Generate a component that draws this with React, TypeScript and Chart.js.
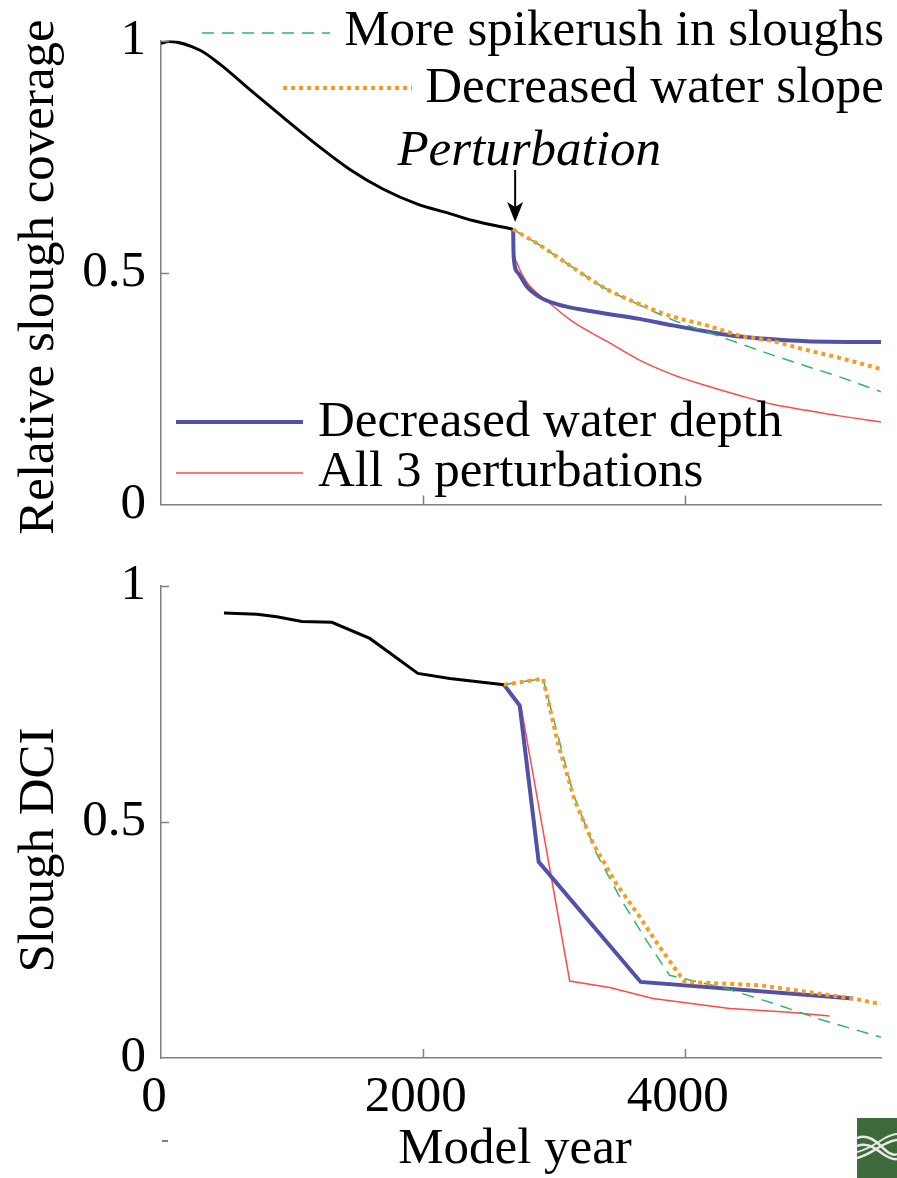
import React, { useEffect, useRef } from "react";
import { Chart, registerables } from "chart.js";

Chart.register(...registerables);

const FONT = "'Liberation Serif', 'Times New Roman', serif";
const FS = 51;
const AXIS = "#7f7f7f";

// ---- shared tick definitions ----
const yearTicks = [0, 2000, 4000];
const yearTickLabels = ["0", "2000", "4000"];
const valueTicks = [0, 0.5, 1];
const valueTickLabels = ["0", "0.5", "1"];

const seriesNames = [
  "More spikerush in sloughs",
  "Decreased water slope",
  "Decreased water depth",
  "All 3 perturbations",
];
const perturbationLabel = "Perturbation";
const perturbationYear = 2690;
const topTitle = "Relative slough coverage";
const bottomTitle = "Slough DCI";
const xTitle = "Model year";

// ---- top panel: relative slough coverage ----
const covBaseYears = [0, 60, 298, 450, 679, 931, 1191, 1443, 1695, 1954, 2206, 2382, 2690];
const covBase = [0.994, 0.998, 0.979, 0.949, 0.894, 0.835, 0.775, 0.722, 0.68, 0.648, 0.627, 0.612, 0.593];

const covSpikeYears = [2690, 2893, 3145, 3405, 3656, 3908, 4168, 4420, 4672, 4931, 5183, 5500];
const covSpike = [0.593, 0.559, 0.511, 0.464, 0.43, 0.398, 0.372, 0.347, 0.322, 0.298, 0.275, 0.243];

const covSlopeYears = [2690, 2893, 3145, 3405, 3656, 3908, 4168, 4420, 4672, 4931, 5183, 5500];
const covSlope = [0.593, 0.559, 0.511, 0.464, 0.432, 0.405, 0.386, 0.364, 0.352, 0.333, 0.316, 0.292];

const covDepthYears = [2690, 2694, 2725, 2794, 2893, 3023, 3275, 3656, 3908, 4168, 4420, 4672, 4931, 5500];
const covDepth = [0.593, 0.534, 0.5, 0.47, 0.447, 0.432, 0.417, 0.4, 0.386, 0.373, 0.362, 0.356, 0.352, 0.35];

const covAllYears = [2690, 2694, 2718, 2794, 2947, 3145, 3405, 3656, 3908, 4168, 4420, 4672, 4931, 5183, 5500];
const covAll = [0.593, 0.555, 0.521, 0.479, 0.439, 0.394, 0.352, 0.311, 0.28, 0.256, 0.235, 0.216, 0.203, 0.191, 0.178];

// ---- bottom panel: slough DCI ----
const dciBaseYears = [481, 733, 885, 1076, 1305, 1595, 1962, 2206, 2620];
const dciBase = [0.942, 0.939, 0.934, 0.924, 0.922, 0.888, 0.814, 0.803, 0.79];

const dciSpikeYears = [2620, 2918, 3148, 3326, 3517, 3708, 3885, 4318, 4674, 5056, 5500];
const dciSpike = [0.79, 0.803, 0.56, 0.433, 0.334, 0.249, 0.175, 0.147, 0.116, 0.08, 0.044];

const dciSlopeYears = [2620, 2918, 3033, 3160, 3300, 3478, 3656, 3809, 4000, 4573, 5285, 5500];
const dciSlope = [0.79, 0.803, 0.665, 0.545, 0.454, 0.369, 0.299, 0.235, 0.161, 0.154, 0.126, 0.114];

const dciDepthYears = [2620, 2740, 2885, 3664, 5285];
const dciDepth = [0.79, 0.746, 0.415, 0.161, 0.126];

const dciAllYears = [2620, 2750, 3122, 3427, 3758, 4344, 4802, 5107];
const dciAll = [0.79, 0.744, 0.163, 0.149, 0.126, 0.105, 0.097, 0.089];

// ---- styles ----
const STY = {
  slope: { borderColor: "#fb9a1e", borderWidth: 4, borderDash: [4, 4] },
  spike: { borderColor: "#2fb56c", borderWidth: 1.5, borderDash: [12, 8] },
  depth: { borderColor: "#5151a8", borderWidth: 4, borderDash: [] as number[] },
  all3: { borderColor: "#ff4a4a", borderWidth: 1.5, borderDash: [] as number[] },
  base: { borderColor: "#000000", borderWidth: 3, borderDash: [] as number[] },
};

function pts(xs: number[], ys: number[]) {
  return xs.map((x, i) => ({ x, y: ys[i] }));
}

function makeDatasets(
  base: [number[], number[]],
  spike: [number[], number[]],
  slope: [number[], number[]],
  depth: [number[], number[]],
  all3: [number[], number[]],
  smooth: boolean
) {
  const common = smooth
    ? { cubicInterpolationMode: "monotone" as const, tension: 0.4 }
    : { tension: 0 };
  return [
    { label: seriesNames[1], data: pts(...slope), ...STY.slope, ...common, borderCapStyle: "butt" },
    { label: seriesNames[0], data: pts(...spike), ...STY.spike, ...common },
    { label: seriesNames[2], data: pts(...depth), ...STY.depth, ...common },
    { label: seriesNames[3], data: pts(...all3), ...STY.all3, ...common },
    { label: "Baseline", data: pts(...base), ...STY.base, ...common },
  ];
}

type LegendEntry = { style: any; x1: number; x2: number; ly: number; tx: number; ty: number; align: CanvasTextAlign; text: string };

function makeDecor(kind: "top" | "bottom", offsetY: number) {
  return {
    id: "decor-" + kind,
    afterDraw(chart: any) {
      const { ctx, chartArea } = chart;
      const x = chart.scales.x;
      const y = chart.scales.y;
      ctx.save();
      // inward tick marks
      ctx.strokeStyle = AXIS;
      ctx.lineWidth = 1.5;
      yearTicks.forEach((v) => {
        if (v === 0) return;
        const px = Math.round(x.getPixelForValue(v)) + 0.5;
        ctx.beginPath();
        ctx.moveTo(px, chartArea.bottom);
        ctx.lineTo(px, chartArea.bottom - 9);
        ctx.stroke();
      });
      valueTicks.forEach((v) => {
        if (v === 0) return;
        const py = Math.round(y.getPixelForValue(v)) + 0.5;
        ctx.beginPath();
        ctx.moveTo(chartArea.left, py);
        ctx.lineTo(chartArea.left + 8, py);
        ctx.stroke();
      });

      ctx.fillStyle = "#000";
      ctx.font = `${FS}px ${FONT}`;
      // y title
      ctx.save();
      ctx.translate(40, (kind === "top" ? 277 : 850) - offsetY);
      ctx.rotate(-Math.PI / 2);
      ctx.textAlign = "center";
      ctx.textBaseline = "middle";
      ctx.fillText(kind === "top" ? topTitle : bottomTitle, 0, 0);
      ctx.restore();

      let entries: LegendEntry[] = [];
      if (kind === "top") {
        entries = [
          { style: STY.spike, x1: 202, x2: 330, ly: 33, tx: 884, ty: 32, align: "right", text: seriesNames[0] },
          { style: STY.slope, x1: 283, x2: 412, ly: 88, tx: 884, ty: 89, align: "right", text: seriesNames[1] },
          { style: STY.depth, x1: 176, x2: 303, ly: 422, tx: 318, ty: 423, align: "left", text: seriesNames[2] },
          { style: STY.all3, x1: 176, x2: 303, ly: 473, tx: 318, ty: 473, align: "left", text: seriesNames[3] },
        ];
        // perturbation annotation
        const ax = x.getPixelForValue(perturbationYear) + 2;
        ctx.save();
        ctx.font = `italic ${FS}px ${FONT}`;
        ctx.textAlign = "center";
        ctx.textBaseline = "middle";
        ctx.fillText(perturbationLabel, ax + 14, 152);
        ctx.restore();
        ctx.strokeStyle = "#000";
        ctx.lineWidth = 2;
        ctx.beginPath();
        ctx.moveTo(ax, 170);
        ctx.lineTo(ax, 210);
        ctx.stroke();
        ctx.beginPath();
        ctx.moveTo(ax - 8, 202);
        ctx.lineTo(ax, 222);
        ctx.lineTo(ax + 8, 202);
        ctx.lineTo(ax, 207);
        ctx.closePath();
        ctx.fill();
      } else {
        ctx.textAlign = "center";
        ctx.textBaseline = "middle";
        ctx.fillText(xTitle, 515, 1150 - offsetY);
        ctx.strokeStyle = AXIS;
        ctx.lineWidth = 2;
        ctx.beginPath();
        ctx.moveTo(162, 1141 - offsetY);
        ctx.lineTo(168, 1141 - offsetY);
        ctx.stroke();
      }
      entries.forEach((e) => {
        ctx.save();
        ctx.strokeStyle = e.style.borderColor;
        ctx.lineWidth = e.style.borderWidth;
        ctx.setLineDash(e.style.borderDash || []);
        ctx.lineCap = "butt";
        ctx.beginPath();
        ctx.moveTo(e.x1, e.ly);
        ctx.lineTo(e.x2, e.ly);
        ctx.stroke();
        ctx.restore();
        ctx.fillStyle = "#000";
        ctx.font = `${FS}px ${FONT}`;
        ctx.textAlign = e.align;
        ctx.textBaseline = "middle";
        ctx.fillText(e.text, e.tx, e.ty);
      });
      ctx.restore();
    },
  };
}

function makeConfig(datasets: any[], padTop: number, xScaleHeight: number, showX: boolean, plugin: any) {
  return {
    type: "line" as const,
    data: { datasets },
    options: {
      responsive: false,
      animation: false as const,
      events: [],
      layout: { padding: { left: 0, right: 16, top: padTop, bottom: 0 } },
      plugins: { legend: { display: false }, tooltip: { enabled: false } },
      elements: { point: { radius: 0 } },
      scales: {
        x: {
          type: "linear" as const,
          min: 0,
          max: 5500,
          afterBuildTicks: (s: any) => {
            s.ticks = yearTicks.map((v) => ({ value: v }));
          },
          afterFit: (s: any) => {
            s.height = xScaleHeight;
          },
          grid: { display: false, drawTicks: false },
          border: { display: true, color: AXIS, width: 1.5 },
          ticks: {
            display: showX,
            autoSkip: false,
            maxRotation: 0,
            padding: 14,
            labelOffset: -7,
            color: "#000",
            font: { family: FONT, size: FS, lineHeight: 1 },
            callback: (_v: any, i: number) => yearTickLabels[i],
          },
        },
        y: {
          type: "linear" as const,
          min: 0,
          max: 1,
          afterBuildTicks: (s: any) => {
            s.ticks = valueTicks.map((v) => ({ value: v }));
          },
          afterFit: (s: any) => {
            s.width = 161;
          },
          grid: { display: false, drawTicks: false },
          border: { display: true, color: AXIS, width: 1.5 },
          ticks: {
            autoSkip: false,
            padding: 15,
            color: "#000",
            font: { family: FONT, size: FS, lineHeight: 1 },
            callback: (_v: any, i: number) => valueTickLabels[i],
          },
        },
      },
    },
    plugins: [plugin],
  };
}

const TOP_H = 545;
const BOTTOM_H = 1178 - TOP_H;

export default function App() {
  const topRef = useRef<HTMLCanvasElement | null>(null);
  const botRef = useRef<HTMLCanvasElement | null>(null);

  useEffect(() => {
    const topSets = makeDatasets(
      [covBaseYears, covBase],
      [covSpikeYears, covSpike],
      [covSlopeYears, covSlope],
      [covDepthYears, covDepth],
      [covAllYears, covAll],
      true
    );
    const botSets = makeDatasets(
      [dciBaseYears, dciBase],
      [dciSpikeYears, dciSpike],
      [dciSlopeYears, dciSlope],
      [dciDepthYears, dciDepth],
      [dciAllYears, dciAll],
      false
    );
    const c1 = new Chart(topRef.current as HTMLCanvasElement, makeConfig(topSets, 37, TOP_H - 509, false, makeDecor("top", 0)) as any);
    const c2 = new Chart(botRef.current as HTMLCanvasElement, makeConfig(botSets, 585 - TOP_H, 1178 - 1058, true, makeDecor("bottom", TOP_H)) as any);
    return () => {
      c1.destroy();
      c2.destroy();
    };
  }, []);

  return (
    <div style={{ position: "absolute", left: 0, top: 0, width: 897, height: 1178, background: "#fff", overflow: "hidden" }}>
      <canvas ref={topRef} width={897} height={TOP_H} style={{ position: "absolute", left: 0, top: 0 }} />
      <canvas ref={botRef} width={897} height={BOTTOM_H} style={{ position: "absolute", left: 0, top: TOP_H }} />
      <div style={{ position: "absolute", left: 857, top: 1118, width: 40, height: 60, background: "#3e6a3b" }}>
        <svg width="40" height="60" viewBox="0 0 40 60">
          <path d="M0 20 C10 16 18 22 26 30 C32 36 36 38 40 36" stroke="#e8e8e8" strokeWidth="2.5" fill="none" />
          <path d="M0 28 C10 24 18 30 26 36 C32 40 36 42 40 41" stroke="#e8e8e8" strokeWidth="2.5" fill="none" />
          <path d="M0 40 C10 38 20 30 28 26 C34 23 37 22 40 22" stroke="#e8e8e8" strokeWidth="2.5" fill="none" />
          <path d="M0 34 C10 32 20 25 28 20 C34 17 37 16 40 16" stroke="#e8e8e8" strokeWidth="2" fill="none" />
        </svg>
      </div>
    </div>
  );
}
